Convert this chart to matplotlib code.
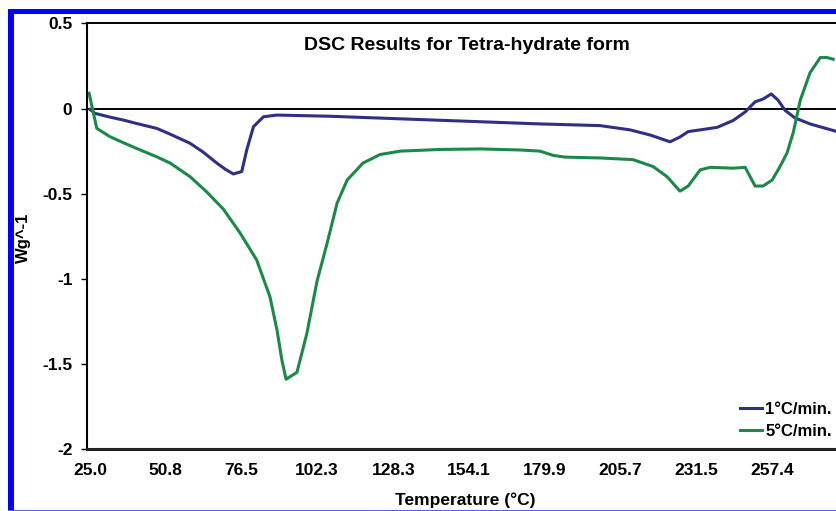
import matplotlib
matplotlib.use("Agg")
import matplotlib.pyplot as plt
from matplotlib.patches import Rectangle

plt.rcParams['font.family'] = ['Liberation Sans', 'DejaVu Sans']

# 1 C/min curve
t_slow = [25.0, 26.7, 31.8, 36.3, 41.0, 47.7, 52.3, 59.1, 63.5, 68.2, 71.0, 73.8,
          76.7, 78.4, 80.7, 84.1, 88.6, 106.8, 130.6, 154.5, 178.3, 198.8, 209.0,
          215.8, 222.6, 226.0, 228.8, 232.9, 238.7, 244.1, 248.2, 251.6, 254.3,
          257.1, 259.4, 261.8, 265.2, 270.3, 279.5]
w_slow = [-0.005, -0.028, -0.05, -0.067, -0.088, -0.116, -0.15, -0.204, -0.255,
          -0.32, -0.355, -0.384, -0.37, -0.243, -0.106, -0.048, -0.038, -0.045,
          -0.06, -0.075, -0.09, -0.10, -0.125, -0.155, -0.195, -0.167, -0.135,
          -0.125, -0.11, -0.07, -0.02, 0.04, 0.056, 0.086, 0.05, -0.01, -0.055,
          -0.09, -0.135]

# 5 C/min curve
t_fast = [24.7, 27.3, 31.8, 36.3, 41.0, 47.7, 52.3, 59.1, 64.8, 70.4, 76.1, 81.8,
          86.3, 88.7, 90.4, 91.8, 95.5, 98.9, 102.4, 105.8, 109.2, 112.6, 118.0,
          123.8, 130.6, 144.3, 157.9, 171.5, 178.3, 182.8, 186.9, 198.8, 210.0,
          216.8, 221.6, 226.0, 228.8, 232.9, 236.3, 244.1, 248.2, 251.6, 254.3,
          257.4, 260.1, 262.5, 264.6, 267.0, 270.3, 273.8, 276.1, 278.2]
w_fast = [0.09, -0.116, -0.165, -0.20, -0.235, -0.283, -0.32, -0.40, -0.49, -0.59,
          -0.73, -0.89, -1.105, -1.30, -1.48, -1.59, -1.55, -1.32, -1.01, -0.79,
          -0.555, -0.42, -0.32, -0.27, -0.25, -0.24, -0.237, -0.243, -0.25, -0.275,
          -0.285, -0.29, -0.30, -0.34, -0.40, -0.485, -0.455, -0.36, -0.345, -0.35,
          -0.345, -0.455, -0.455, -0.42, -0.34, -0.26, -0.14, 0.05, 0.21, 0.30,
          0.30, 0.29]

xticks = [25.0, 50.8, 76.5, 102.3, 128.3, 154.1, 179.9, 205.7, 231.5, 257.4]
yticks = [0.5, 0, -0.5, -1, -1.5, -2]
ylabels = ['0.5', '0', '-0.5', '-1', '-1.5', '-2']

fig = plt.figure(figsize=(8.37, 5.11), dpi=100)
ax = fig.add_axes([87 / 837, 1 - 449 / 511, 750 / 837, 425.5 / 511])

ax.plot(t_slow, w_slow, color='#2f2f86', lw=2.2, label='1°C/min.')
ax.plot(t_fast, w_fast, color='#1b8a48', lw=2.2, label='5°C/min.')
ax.axhline(0, color='black', lw=1.4, zorder=1)

ax.set_xlim(23.98, 279.5)
ax.set_ylim(-2, 0.5)
ax.set_xticks(xticks)
ax.set_xticklabels(['%.1f' % t for t in xticks])
ax.set_yticks(yticks)
ax.set_yticklabels(ylabels)
ax.tick_params(axis='x', length=0, pad=10, labelsize=12.5)
ax.tick_params(axis='y', length=4.5, width=1, pad=6, labelsize=12.5)
for lab in ax.get_xticklabels() + ax.get_yticklabels():
    lab.set_fontweight('bold')

ax.spines['right'].set_visible(False)
ax.spines['left'].set_linewidth(1.5)
ax.spines['top'].set_linewidth(1.4)
ax.spines['bottom'].set_linewidth(2.2)
ax.spines['bottom'].set_color('#222222')

ax.text(0.507, 0.949, 'DSC Results for Tetra-hydrate form', transform=ax.transAxes,
        ha='center', va='center', fontsize=14, fontweight='bold')

leg = ax.legend(loc='lower right', bbox_to_anchor=(0.993, 0.024), frameon=False,
                borderpad=0, borderaxespad=0, handlelength=1.3, handletextpad=0.2,
                labelspacing=0.42, prop={'weight': 'bold', 'size': 12})

fig.text(23 / 837, 1 - 238 / 511, 'Wg^-1', rotation=90, ha='center', va='center',
         fontsize=12, fontweight='bold')
fig.text(465 / 837, 1 - 500 / 511, 'Temperature (°C)', ha='center', va='center',
         fontsize=12.5, fontweight='bold')

# blue frame of the original picture
fig.add_artist(Rectangle((8 / 837, 0), 6 / 837, 502 / 511, transform=fig.transFigure,
                         color='#0000ff', lw=0))
fig.add_artist(Rectangle((8 / 837, 497 / 511), 829 / 837, 5 / 511, transform=fig.transFigure,
                         color='#0000ff', lw=0))
fig.add_artist(Rectangle((8 / 837, 0), 829 / 837, 1.5 / 511, transform=fig.transFigure,
                         color='#5a5aff', lw=0))

fig.savefig('out.png', dpi=100)
